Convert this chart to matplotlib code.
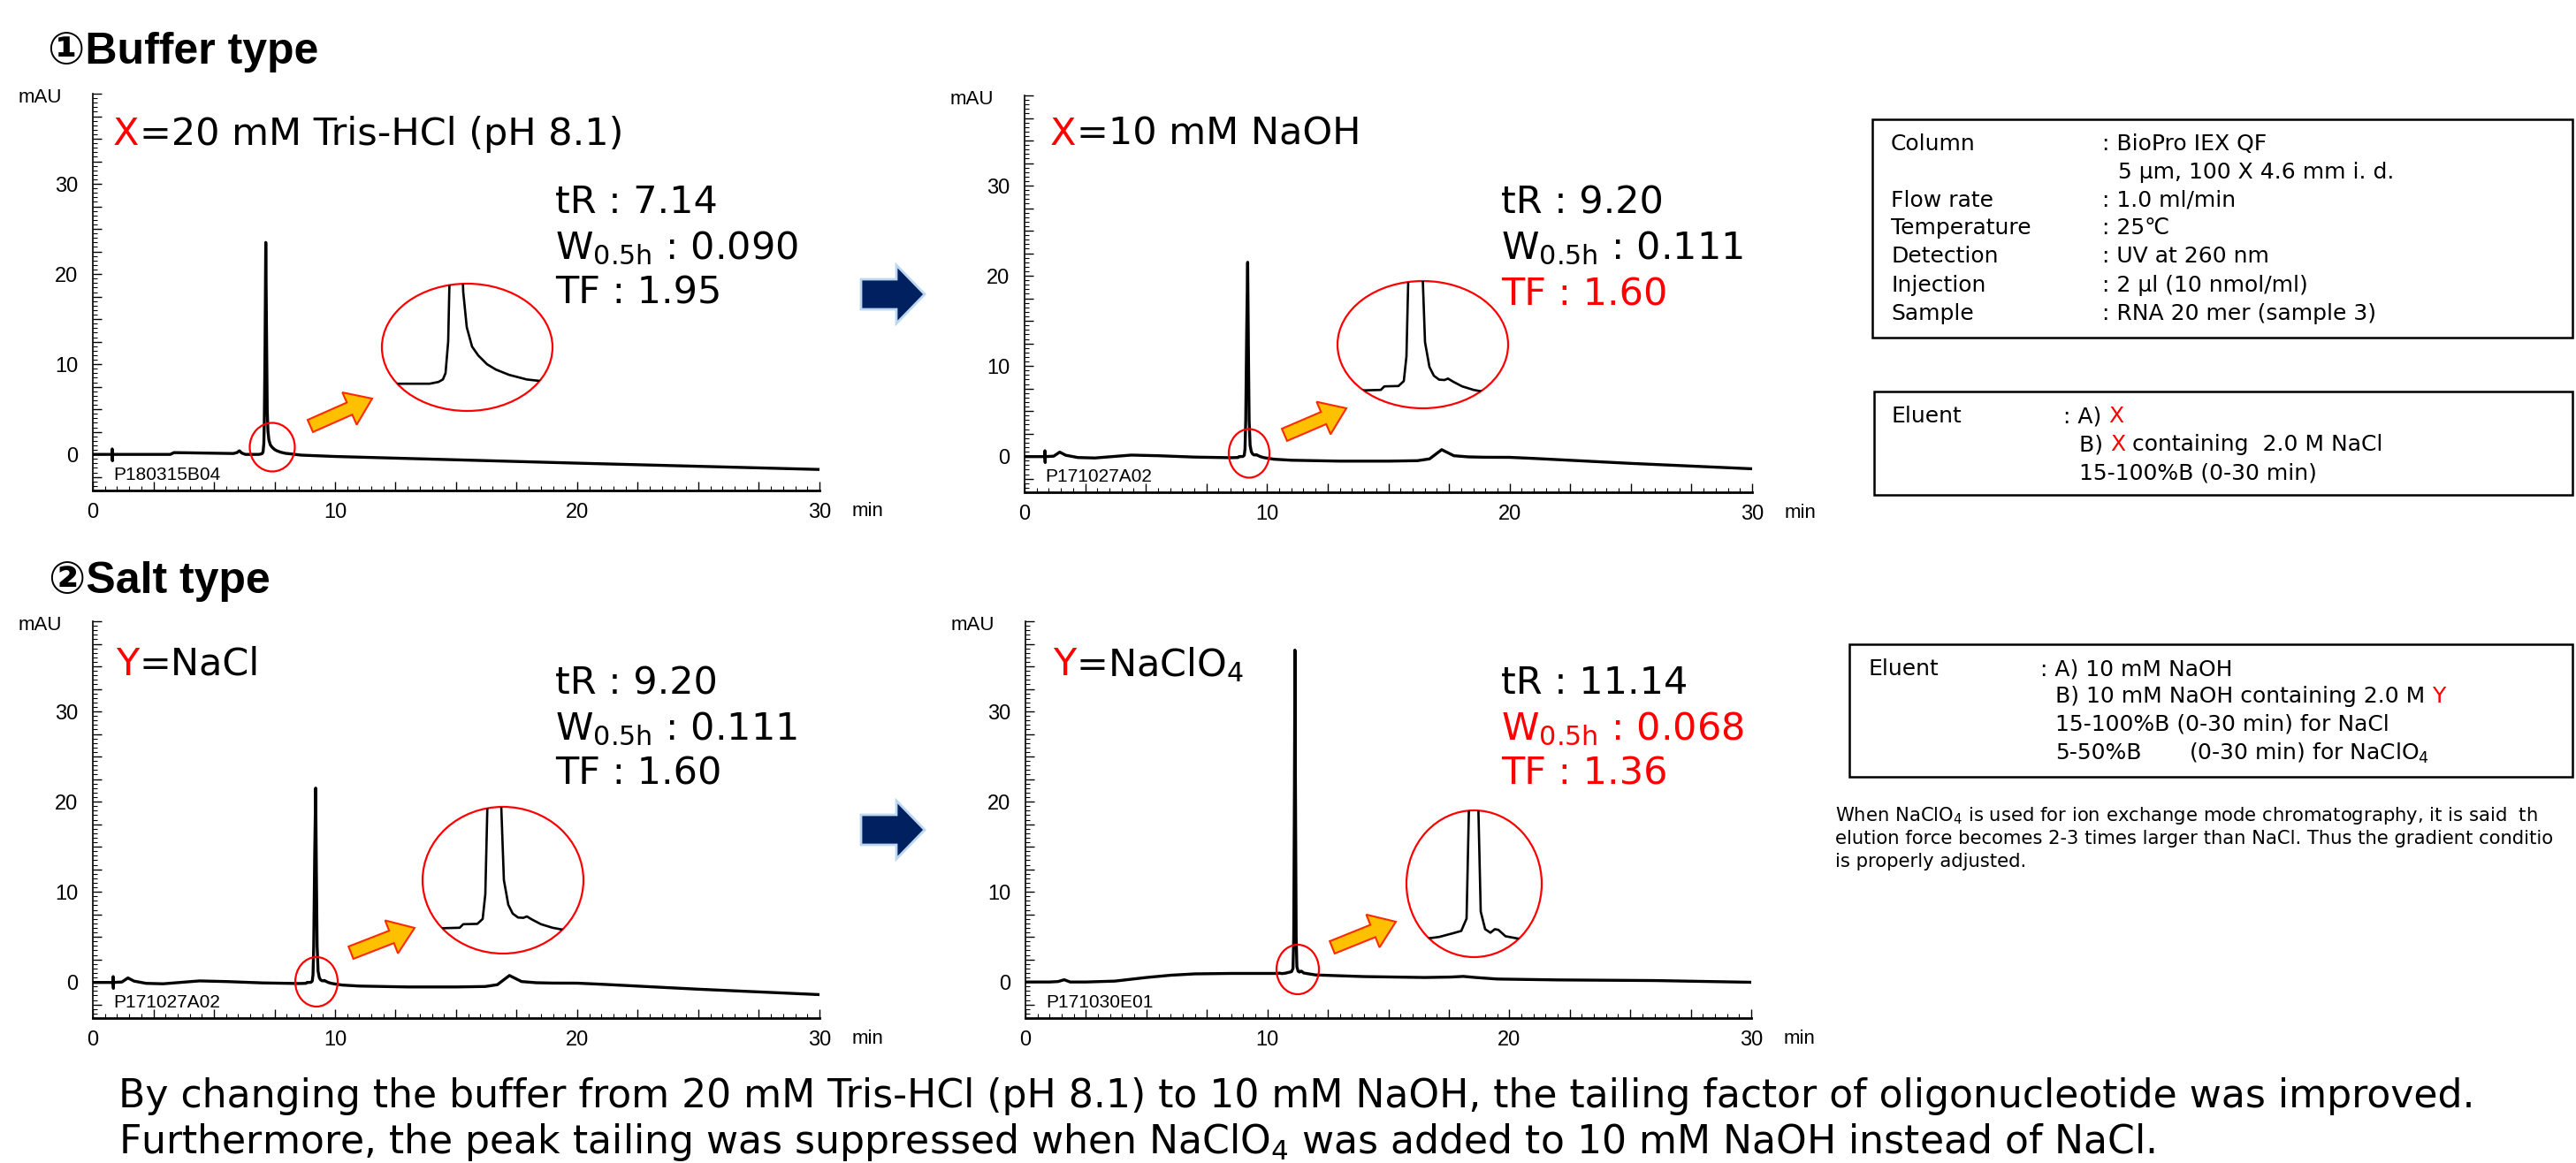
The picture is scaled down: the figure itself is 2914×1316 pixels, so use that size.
import matplotlib
matplotlib.use('Agg')
import matplotlib.pyplot as plt
from matplotlib.patches import Ellipse, Rectangle, FancyArrow
from matplotlib.ticker import MultipleLocator, FuncFormatter
from matplotlib import font_manager

W, H, DPI = 2914, 1316, 100

# ---- chromatogram traces (min, mAU) ----
# 20 mM Tris-HCl, NaCl  (P180315B04)
t_tris = [0.0, 0.80, 0.80, 0.81, 0.81, 3.2, 3.35, 5.8, 5.95, 6.05, 6.15, 6.3, 6.85,
          6.95, 7.00, 7.03, 7.06, 7.08, 7.11, 7.14, 7.17, 7.20, 7.23, 7.27, 7.33,
          7.40, 7.50, 7.60, 7.75, 7.95, 8.20, 8.60, 10.0, 15.0, 20.0, 25.0, 30.0]
y_tris = [0.0, 0.0, 0.6, -0.7, 0.0, 0.0, 0.2, 0.1, 0.2, 0.4, 0.15, 0.0, 0.0,
          0.05, 0.12, 0.3, 1.2, 3.5, 12.0, 23.5, 14.0, 5.0, 2.6, 1.6, 1.05,
          0.8, 0.55, 0.4, 0.25, 0.12, 0.05, -0.08, -0.23, -0.6, -0.97, -1.32, -1.67]

# 10 mM NaOH, NaCl  (P171027A02) - used in both ① and ②
t_naoh = [0.0, 0.84, 0.84, 0.85, 0.85, 1.2, 1.45, 1.7, 2.2, 2.9, 3.6, 4.4, 5.5, 7.0,
          8.5, 8.80, 8.84, 9.00, 9.06, 9.09, 9.12, 9.16, 9.20, 9.23, 9.26, 9.30,
          9.35, 9.40, 9.46, 9.52, 9.56, 9.62, 9.72, 9.85, 10.0, 10.3, 11.0, 13.0,
          15.0, 16.2, 16.7, 17.2, 17.7, 18.3, 19.0, 20.0, 21.0, 25.0, 30.0]
y_naoh = [-0.05, -0.05, 0.6, -0.7, -0.05, 0.0, 0.45, 0.1, -0.15, -0.2, -0.05, 0.12, 0.05, -0.1,
          -0.17, -0.15, -0.05, -0.04, 0.1, 0.8, 4.0, 14.0, 21.5, 12.0, 4.0, 1.2,
          0.5, 0.25, 0.14, 0.13, 0.17, 0.08, -0.05, -0.15, -0.22, -0.34, -0.45, -0.55,
          -0.55, -0.5, -0.3, 0.72, 0.05, -0.08, -0.12, -0.13, -0.25, -0.8, -1.4]

# 10 mM NaOH, NaClO4  (P171030E01)
t_clo4 = [0.0, 1.0, 1.35, 1.6, 1.85, 2.5, 3.7, 5.0, 6.0, 7.0, 8.5, 10.0, 10.4, 10.5,
          10.6, 10.75, 10.9, 11.0, 11.06, 11.09, 11.12, 11.14, 11.16, 11.19, 11.22,
          11.27, 11.33, 11.38, 11.42, 11.5, 11.65, 12.0, 14.0, 16.5, 17.6, 18.1, 18.6,
          19.5, 22.0, 26.0, 30.0]
y_clo4 = [0.0, 0.0, 0.05, 0.25, 0.0, 0.0, 0.1, 0.5, 0.75, 0.9, 0.95, 0.95, 0.95, 0.98,
          0.93, 0.98, 1.08, 1.15, 1.5, 5.0, 22.0, 36.8, 22.0, 5.0, 1.7,
          1.2, 1.1, 1.2, 1.18, 1.0, 0.93, 0.78, 0.6, 0.5, 0.55, 0.62, 0.5,
          0.33, 0.23, 0.16, -0.03]

samples = ['P180315B04', 'P171027A02', 'P171027A02', 'P171030E01']
stats = [['tR : 7.14', r'W$_{\mathregular{0.5h}}$ : 0.090', 'TF : 1.95'],
         ['tR : 9.20', r'W$_{\mathregular{0.5h}}$ : 0.111', 'TF : 1.60'],
         ['tR : 9.20', r'W$_{\mathregular{0.5h}}$ : 0.111', 'TF : 1.60'],
         ['tR : 11.14', r'W$_{\mathregular{0.5h}}$ : 0.068', 'TF : 1.36']]
stat_colors = [['black', 'black', 'black'],
               ['black', 'black', 'red'],
               ['black', 'black', 'black'],
               ['black', 'red', 'red']]
labels = [('X', '=20 mM Tris-HCl (pH 8.1)'), ('X', '=10 mM NaOH'),
          ('Y', '=NaCl'), ('Y', r'=NaClO$_{\mathregular{4}}$')]
y_labels = [0, 10, 20, 30]
x_labels = [0, 10, 20, 30]

fonts = {f.name for f in font_manager.fontManager.ttflist}
NARROW = 'Liberation Sans Narrow' if 'Liberation Sans Narrow' in fonts else 'Liberation Sans'
MAIN = ['DejaVu Sans', 'Noto Sans CJK JP']
plt.rcParams['font.family'] = MAIN
plt.rcParams['mathtext.fontset'] = 'dejavusans'

fig = plt.figure(figsize=(W / DPI, H / DPI), dpi=DPI)


def px_rect(x0, y0, x1, y1):
    return [x0 / W, 1 - y1 / H, (x1 - x0) / W, (y1 - y0) / H]


def labeller(shown):
    def f(v, pos):
        for s in shown:
            if abs(v - s) < 1e-6:
                return '%d' % s
        return ''
    return FuncFormatter(f)


def chrom(box, t, y, sample):
    ax = fig.add_axes(px_rect(*box))
    ax.patch.set_alpha(0)
    ax.plot(t, y, color='black', lw=2.4, solid_joinstyle='round')
    ax.set_xlim(0, 30)
    ax.set_ylim(-4, 40)
    ax.spines['top'].set_visible(False)
    ax.spines['right'].set_visible(False)
    ax.spines['left'].set_linewidth(1.2)
    ax.spines['bottom'].set_linewidth(2.0)
    for a, shown in ((ax.xaxis, x_labels), (ax.yaxis, y_labels)):
        a.set_major_locator(MultipleLocator(2.5))
        a.set_minor_locator(MultipleLocator(0.5))
        a.set_major_formatter(labeller(shown))
    ax.tick_params(which='major', direction='in', length=7, width=1.0,
                   labelsize=17, labelfontfamily=NARROW)
    ax.tick_params(which='minor', direction='in', length=3.5, width=0.8)
    ax.tick_params(axis='x', pad=10)
    ax.tick_params(axis='y', pad=12)
    ax.text(-0.043, 0.989, 'mAU', transform=ax.transAxes, ha='right', va='center',
            fontsize=16, family=NARROW)
    ax.text(1.045, -0.053, 'min', transform=ax.transAxes, ha='left', va='center',
            fontsize=16, family=NARROW)
    ax.text(0.028, 0.04, sample, transform=ax.transAxes, ha='left', va='center',
            fontsize=15, family=NARROW)
    return ax


def inset(box, t, y, xlim, ylim):
    ax = fig.add_axes(px_rect(*box))
    ax.set_xlim(*xlim)
    ax.set_ylim(*ylim)
    ax.axis('off')
    ell = Ellipse((0.5, 0.5), 1, 1, transform=ax.transAxes, fill=False,
                  ec='red', lw=1.6, clip_on=False)
    ax.add_patch(ell)
    line, = ax.plot(t, y, color='black', lw=1.9)
    line.set_clip_path(ell)


# main chromatograms
chrom((105, 106, 927, 555), t_tris, y_tris, samples[0])
chrom((1159, 108, 1982, 557), t_naoh, y_naoh, samples[1])
chrom((105, 703, 927, 1152), t_naoh, y_naoh, samples[2])
chrom((1160, 703, 1981, 1152), t_clo4, y_clo4, samples[3])

# magnified peaks
inset((432, 321, 625, 465), t_tris, y_tris, (6.31, 8.24), (-0.77, 2.83))
inset((1513, 318, 1706, 462), t_naoh, y_naoh, (8.31, 10.24), (-0.67, 2.93))
inset((478, 913, 660, 1079), t_naoh, y_naoh, (8.38, 10.20), (-0.88, 3.27))
inset((1591, 917, 1744, 1083), t_clo4, y_clo4, (10.38, 11.91), (0.41, 4.56))

# overlay in pixel coordinates for annotations
ov = fig.add_axes([0, 0, 1, 1])
ov.set_xlim(0, W)
ov.set_ylim(H, 0)
ov.axis('off')

renderer = fig.canvas.get_renderer()


def width(s, size):
    prop = font_manager.FontProperties(family=MAIN, size=size)
    w, _, _ = renderer.get_text_width_height_descent(s, prop, ismath=('$' in s))
    return w


def runs(x, y, parts, size, **kw):
    cur = ''
    for s, c in parts:
        cur += s
        ov.text(x + width(cur, size), y, s, color=c, ha='right', va='center',
                fontsize=size, **kw)


# section titles
TITLE_FONT = ['Liberation Sans', 'DejaVu Sans', 'Noto Sans CJK JP']
ov.text(54, 59, '①Buffer type', fontsize=36, fontweight='bold', va='center', ha='left',
        family=TITLE_FONT)
ov.text(55, 658, '②Salt type', fontsize=36, fontweight='bold', va='center', ha='left',
        family=TITLE_FONT)

# condition labels and peak stats
LS = 31
label_pos = [(128, 152), (1188, 152), (131, 752), (1191, 752)]
stat_pos = [(628, [229, 281, 332]), (1698, [230, 281, 333]),
            (628, [773, 825, 875]), (1698, [773, 825, 875])]
for (lx, ly), (a, b), (sx, sys_), st, sc in zip(label_pos, labels, stat_pos, stats, stat_colors):
    runs(lx, ly, [(a, 'red'), (b, 'black')], LS)
    for yy, s, c in zip(sys_, st, sc):
        ov.text(sx, yy, s, color=c, fontsize=LS, va='center', ha='left')

# small red circles around the peak base
for cx, cy, ew, eh in [(308, 506, 51, 55), (1413, 513, 46, 55),
                       (358, 1111, 48, 56), (1468, 1097, 48, 56)]:
    ov.add_patch(Ellipse((cx, cy), ew, eh, fill=False, ec='red', lw=1.6))

# yellow arrows
for x0, y0, x1, y1 in [(351, 482, 421, 451), (1453, 492, 1523, 462),
                       (397, 1078, 469, 1050), (1507, 1072, 1579, 1043)]:
    ov.add_patch(FancyArrow(x0, y0, x1 - x0, y1 - y0, width=15, head_width=40,
                            head_length=28, length_includes_head=True,
                            fc='#FFC000', ec='#FF2A00', lw=1.5))

# navy arrows between panels
for yc in (333, 939):
    ov.add_patch(FancyArrow(974, yc, 72, 0, width=34, head_width=66, head_length=32,
                            length_includes_head=True, fc='#002060', ec='#BDD7EE', lw=2))

# condition boxes
BS = 18
ov.add_patch(Rectangle((2118, 135), 792, 247, fill=False, ec='black', lw=1.8))
rows = [('Column', ': BioPro IEX QF'), ('', '5 μm, 100 X 4.6 mm i. d.'),
        ('Flow rate', ': 1.0 ml/min'), ('Temperature', ': 25℃'),
        ('Detection', ': UV at 260 nm'), ('Injection', ': 2 μl (10 nmol/ml)'),
        ('Sample', ': RNA 20 mer (sample 3)')]
for yy, (k, v) in zip([163, 195, 227, 258, 290, 323, 355], rows):
    ov.text(2139, yy, k, fontsize=BS, va='center')
    ov.text(2378 if v.startswith(':') else 2396, yy, v, fontsize=BS, va='center')

ov.add_patch(Rectangle((2120, 443), 790, 117, fill=False, ec='black', lw=1.8))
ov.text(2140, 471, 'Eluent', fontsize=BS, va='center')
runs(2334, 471, [(': A) ', 'black'), ('X', 'red')], BS)
runs(2352, 503, [('B) ', 'black'), ('X', 'red'), (' containing  2.0 M NaCl', 'black')], BS)
ov.text(2352, 535, '15-100%B (0-30 min)', fontsize=BS, va='center')

ov.add_patch(Rectangle((2092, 729), 818, 150, fill=False, ec='black', lw=1.8))
ov.text(2113, 757, 'Eluent', fontsize=BS, va='center')
ov.text(2308, 757, ': A) 10 mM NaOH', fontsize=BS, va='center')
runs(2325, 788, [('B) 10 mM NaOH containing 2.0 M ', 'black'), ('Y', 'red')], BS)
ov.text(2325, 820, '15-100%B (0-30 min) for NaCl', fontsize=BS, va='center')
ov.text(2325, 852, '5-50%B', fontsize=BS, va='center')
ov.text(2476, 852, r'(0-30 min) for NaClO$_{\mathregular{4}}$', fontsize=BS, va='center')

# note, cut at the right edge as in the original slide
note = [r'When NaClO$_{\mathregular{4}}$ is used for ion exchange mode chromatography, it is said  th',
        'elution force becomes 2-3 times larger than NaCl. Thus the gradient conditio',
        'is properly adjusted.']
for yy, s in zip([923, 949, 975], note):
    ov.text(2076, yy, s, fontsize=15.2, va='center')

summary = ['By changing the buffer from 20 mM Tris-HCl (pH 8.1) to 10 mM NaOH, '
           'the tailing factor of oligonucleotide was improved.',
           r'Furthermore, the peak tailing was suppressed when NaClO$_{\mathregular{4}}$ '
           'was added to 10 mM NaOH instead of NaCl.']
for yy, s in zip([1240, 1293], summary):
    ov.text(134, yy, s, fontsize=31.8, va='center')

fig.savefig('out.png', dpi=DPI)
